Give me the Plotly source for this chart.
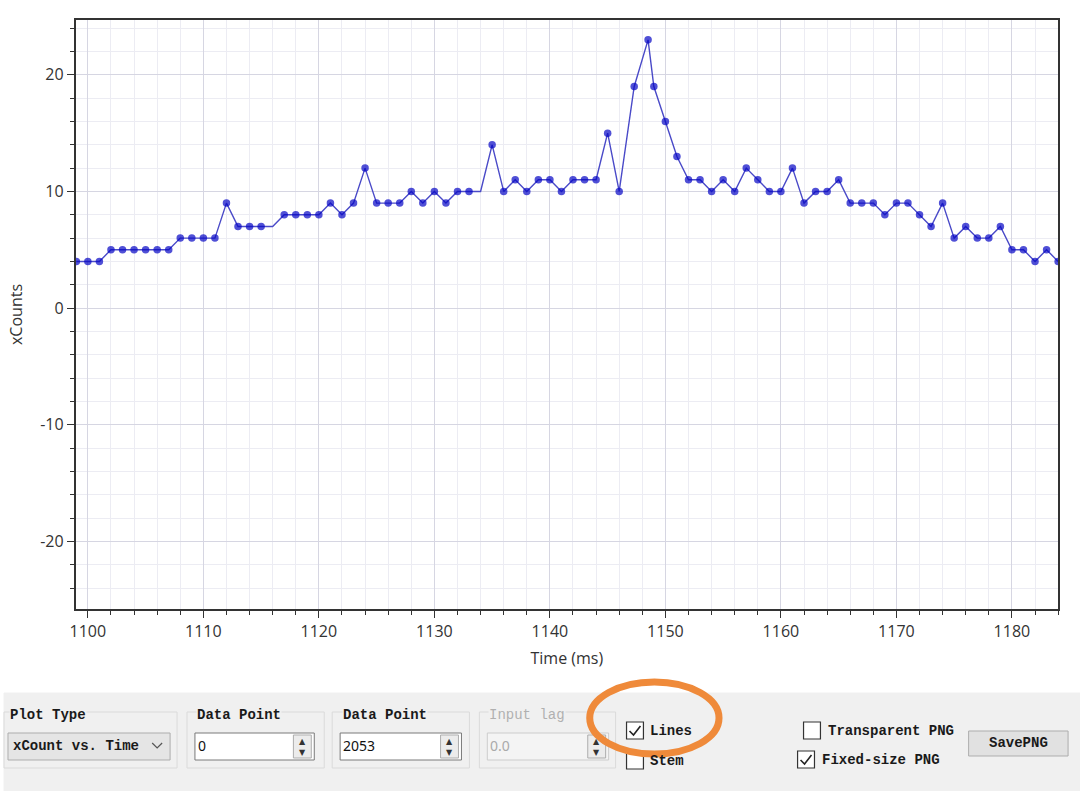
import plotly.graph_objects as go

# sample times (ms) and counts
times = [1099, 1100, 1101, 1102, 1103, 1104, 1105, 1106, 1107, 1108, 1109, 1110,
         1111, 1112, 1113, 1114, 1115, 1116, 1117, 1118, 1119, 1120, 1121, 1122,
         1123, 1124, 1125, 1126, 1127, 1128, 1129, 1130, 1131, 1132, 1133, 1134,
         1135, 1136, 1137, 1138, 1139, 1140, 1141, 1142, 1143, 1144, 1145, 1146,
         1147.3, 1148.5, 1149, 1150, 1151, 1152, 1153, 1154, 1155, 1156, 1157,
         1158, 1159, 1160, 1161, 1162, 1163, 1164, 1165, 1166, 1167, 1168, 1169,
         1170, 1171, 1172, 1173, 1174, 1175, 1176, 1177, 1178, 1179, 1180, 1181,
         1182, 1183, 1184]
xcounts = [4, 4, 4, 5, 5, 5, 5, 5, 5, 6, 6, 6,
           6, 9, 7, 7, 7, 7, 8, 8, 8, 8, 9, 8,
           9, 12, 9, 9, 9, 10, 9, 10, 9, 10, 10, 10,
           14, 10, 11, 10, 11, 11, 10, 11, 11, 11, 15, 10,
           19, 23, 19, 16, 13, 11, 11, 10, 11, 10, 12,
           11, 10, 10, 12, 9, 10, 10, 11, 9, 9, 9, 8,
           9, 9, 8, 7, 9, 6, 7, 6, 6, 7, 5, 5,
           4, 5, 4]
# vertices drawn without a dot in the original
no_marker_times = [1116, 1134]

x_ticks = [1100, 1110, 1120, 1130, 1140, 1150, 1160, 1170, 1180]
y_ticks = [-20, -10, 0, 10, 20]
y_tick_text = ['-20', '-10', '0', '10', '20']

W, H = 1080, 791


def X(px):
    return px / W


def Y(py):
    return 1 - py / H


marker_sizes = [0 if t in no_marker_times else 7.5 for t in times]

fig = go.Figure()
fig.add_trace(go.Scatter(
    x=times, y=xcounts,
    mode='lines+markers',
    line=dict(color='#4a4ac8', width=1.4),
    marker=dict(color='#0606c4', size=marker_sizes, line=dict(width=0)),
    hoverinfo='x+y'
))

axis_font = dict(family='Open Sans, Noto Sans, sans-serif', size=16, color='#333333')

fig.update_xaxes(
    domain=[X(70), X(1058)],
    range=[1098.94, 1184.0],
    tickmode='array', tickvals=x_ticks,
    ticks='outside', ticklen=7, tickwidth=1.3, tickcolor='#333',
    tickfont=axis_font,
    showline=True, linecolor='#333', linewidth=1.5, mirror=True,
    showgrid=True, gridcolor='#d6d6e2', gridwidth=1,
    zeroline=False,
    minor=dict(dtick=2, tick0=1100, ticks='outside', ticklen=4, tickcolor='#333',
               showgrid=True, gridcolor='#ececf3', gridwidth=1),
    title=dict(text='Time (ms)', font=axis_font, standoff=12),
)
fig.update_yaxes(
    domain=[Y(609), Y(20)],
    range=[-25.8, 24.7],
    tickmode='array', tickvals=y_ticks, ticktext=y_tick_text,
    ticks='outside', ticklen=7, tickwidth=1.3, tickcolor='#333',
    tickfont=axis_font,
    showline=True, linecolor='#333', linewidth=1.5, mirror=True,
    showgrid=True, gridcolor='#d6d6e2', gridwidth=1,
    zeroline=False,
    minor=dict(dtick=2, tick0=0, ticks='outside', ticklen=4, tickcolor='#333',
               showgrid=True, gridcolor='#ececf3', gridwidth=1),
    title=dict(text='xCounts', font=axis_font, standoff=14),
)

# ---- the GUI strip below the plot ----
gui_font = dict(family='Liberation Mono, DejaVu Sans Mono, monospace', size=14, color='#1a1a1a')
grey_font = dict(gui_font, color='#b0b0b0')
shapes = []
annos = []


def rect(x0, y0, x1, y1, line='#dadada', fill=None, width=1):
    shapes.append(dict(type='rect', xref='paper', yref='paper',
                       x0=X(x0), x1=X(x1), y0=Y(y1), y1=Y(y0),
                       line=dict(color=line, width=width),
                       fillcolor=fill, layer='above'))


def label(px, py, text, font=gui_font, anchor='left', bg=None):
    annos.append(dict(xref='paper', yref='paper', x=X(px), y=Y(py), text=text,
                      showarrow=False, xanchor=anchor, yanchor='middle',
                      font=font, bgcolor=bg, borderpad=0))


def checkbox(px, py, checked):
    rect(px, py, px + 17, py + 17, line='#333', fill='white', width=1.2)
    if checked:
        path = 'M {} {} L {} {} L {} {}'.format(
            X(px + 3), Y(py + 9), X(px + 7), Y(py + 13), X(px + 14), Y(py + 4))
        shapes.append(dict(type='path', xref='paper', yref='paper', path=path,
                           line=dict(color='#222', width=1.6), layer='above'))


# panel background
rect(-2, 693, W + 2, H + 2, line='#f0f0f0', fill='#f0f0f0')

# group boxes
rect(-2, 712, 172, 768)
rect(182, 712, 320, 768)
rect(328, 712, 466, 768)
rect(476, 712, 613, 768)
label(3, 715, '<b>Plot Type</b>', bg='#f0f0f0')
label(191, 715, '<b>Data Point</b>', bg='#f0f0f0')
label(338, 715, '<b>Data Point</b>', bg='#f0f0f0')
label(485, 715, 'Input lag', font=grey_font, bg='#f0f0f0')

# combo box
rect(2, 733, 165, 760, line='#adadad', fill='#e5e5e5')
label(6, 746, '<b>xCount vs. Time</b>')
shapes.append(dict(type='path', xref='paper', yref='paper',
                   path='M {} {} L {} {} L {} {}'.format(X(147), Y(743), X(152), Y(748), X(157), Y(743)),
                   line=dict(color='#555', width=1.2), layer='above'))

# numeric inputs
spin_font = dict(family='DejaVu Sans', size=8, color='#333')
for (x0, x1, val, enabled) in [(190, 310, '0', True), (336, 458, '2053', True), (484, 606, '0.0', False)]:
    rect(x0, 733, x1, 760, line='#7a7a7a' if enabled else '#cccccc', fill='white' if enabled else '#f4f4f4')
    label(x0 + 2, 745, val, font=dict(family='Noto Sans, sans-serif', size=14,
                                      color='#111' if enabled else '#aaa'))
    rect(x1 - 21, 735, x1 - 3, 758, line='#adadad', fill='#ececec')
    label(x1 - 12, 741, '▲', font=spin_font, anchor='center')
    label(x1 - 12, 752, '▼', font=spin_font, anchor='center')

# check boxes
checkbox(624, 722, True)
label(647, 731, '<b>Lines</b>')
checkbox(624, 752, False)
label(647, 761, '<b>Stem</b>')
checkbox(802, 722, False)
label(826, 731, '<b>Transparent PNG</b>')
checkbox(796, 751, True)
label(820, 760, '<b>Fixed-size PNG</b>')

# button
rect(968, 731, 1068, 756, line='#adadad', fill='#e1e1e1')
label(1018, 743, '<b>SavePNG</b>', anchor='center')

# orange highlight ring
shapes.append(dict(type='circle', xref='paper', yref='paper',
                   x0=X(587), x1=X(717), y0=Y(754), y1=Y(682),
                   line=dict(color='#ef8a3a', width=7), layer='above'))

fig.update_layout(
    width=W, height=H,
    margin=dict(l=0, r=0, t=0, b=0),
    plot_bgcolor='white', paper_bgcolor='white',
    showlegend=False,
    shapes=shapes, annotations=annos,
)

fig.write_html("out.html", config={'displayModeBar': False},
               post_script="document.body.style.margin='0';")
